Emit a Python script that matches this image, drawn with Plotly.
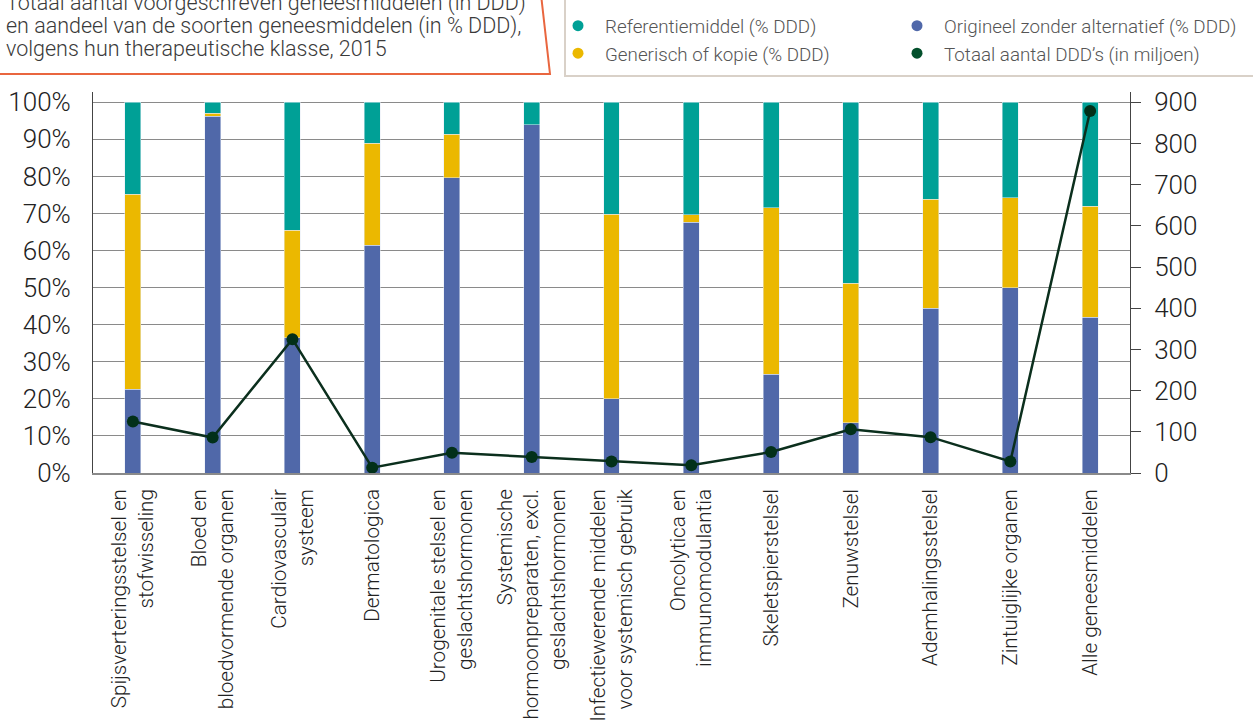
import plotly.graph_objects as go

categories = [
    "Spijsverteringsstelsel en<br>stofwisseling",
    "Bloed en<br>bloedvormende organen",
    "Cardiovasculair<br>systeem",
    "Dermatologica",
    "Urogenitale stelsel en<br>geslachtshormonen",
    "Systemische<br>hormoonpreparaten, excl.<br>geslachtshormonen",
    "Infectiewerende middelen<br>voor systemisch gebruik",
    "Oncolytica en<br>immunomodulantia",
    "Skeletspierstelsel",
    "Zenuwstelsel",
    "Ademhalingsstelsel",
    "Zintuiglijke organen",
    "Alle geneesmiddelen",
]
origineel = [22.6, 96.3, 36.5, 61.5, 79.6, 94.0, 20.0, 67.7, 26.6, 13.5, 44.5, 50.0, 42.0]
generisch = [52.6, 0.8, 29.0, 27.5, 11.8, 0.0, 49.8, 2.0, 44.9, 37.7, 29.4, 24.2, 30.0]
referentie = [24.8, 2.9, 34.5, 11.0, 8.6, 6.0, 30.2, 30.3, 28.5, 48.8, 26.1, 25.8, 28.0]
totaal_ddd = [125, 86, 325, 13, 49, 39, 28, 19, 51, 106, 87, 28, 879]
pct_ticks = [0, 10, 20, 30, 40, 50, 60, 70, 80, 90, 100]
pct_labels = [f"{v}%" for v in pct_ticks]
ddd_ticks = [0, 100, 200, 300, 400, 500, 600, 700, 800, 900]

C_TEAL = "#00A096"
C_YELLOW = "#EBB800"
C_BLUE = "#5068A9"
C_LINE = "#0B2F1D"
C_DOT = "#023019"
C_LEG_GREEN = "#03502C"

W, H = 1253, 728
L, R, T, B = 93, 1130, 92, 473
FONT = "Roboto"


def px(x):
    return (x - L) / (R - L)


def py(y):
    return (B - y) / (B - T)


fig = go.Figure()
x_idx = list(range(len(categories)))

fig.add_trace(go.Bar(x=x_idx, y=origineel, marker_color=C_BLUE, width=0.2,
                     name="Origineel zonder alternatief (% DDD)", showlegend=False))
fig.add_trace(go.Bar(x=x_idx, y=generisch, marker_color=C_YELLOW, width=0.2,
                     name="Generisch of kopie (% DDD)", showlegend=False))
fig.add_trace(go.Bar(x=x_idx, y=referentie, marker_color=C_TEAL, width=0.2,
                     name="Referentiemiddel (% DDD)", showlegend=False))
fig.add_trace(go.Scatter(x=x_idx, y=totaal_ddd, yaxis="y2", mode="lines+markers",
                         line=dict(color=C_LINE, width=2.5),
                         marker=dict(color=C_DOT, size=12),
                         name="Totaal aantal DDD's (in miljoen)", showlegend=False))

# legend entries (dots)
leg_items = [
    ("Referentiemiddel (% DDD)", C_TEAL, "legend"),
    ("Generisch of kopie (% DDD)", C_YELLOW, "legend"),
    ("Origineel zonder alternatief (% DDD)", C_BLUE, "legend2"),
    ("Totaal aantal DDD\u2019s (in miljoen)", C_LEG_GREEN, "legend2"),
]
for i, (nm, col, lg) in enumerate(leg_items):
    fig.add_trace(go.Scatter(x=[None], y=[None], mode="markers", name=nm,
                             marker=dict(color=col, size=11),
                             legend=lg, legendgroup=f"g{i}", showlegend=True))

leg_font = dict(family=FONT, size=18.8, color="#555555", weight=300)

fig.update_layout(
    width=W, height=H,
    margin=dict(l=L, r=W - R, t=T, b=H - B, pad=0, autoexpand=False),
    paper_bgcolor="white", plot_bgcolor="white",
    barmode="stack",
    font=dict(family=FONT, color="#333333"),
    xaxis=dict(
        range=[-0.5, len(categories) - 0.5],
        tickmode="array", tickvals=x_idx, ticktext=categories,
        tickangle=-90, tickfont=dict(family=FONT, size=20.7, color="#222222", weight=300),
        showgrid=False, showline=True, linecolor="#8a8a8a", linewidth=1.5,
        ticks="", ticklabelstandoff=6, zeroline=False, automargin=False,
    ),
    yaxis=dict(
        range=[0, 102.78], tickmode="array", tickvals=pct_ticks, ticktext=pct_labels,
        tickfont=dict(family=FONT, size=26, color="#222222", weight=300),
        showgrid=True, gridcolor="#8a8a8a", gridwidth=1.4,
        showline=True, linecolor="#444444", linewidth=1,
        zeroline=False, ticks="", ticklabelstandoff=16, automargin=False,
    ),
    yaxis2=dict(
        range=[0, 925], overlaying="y", side="right",
        tickmode="array", tickvals=ddd_ticks,
        tickfont=dict(family=FONT, size=26, color="#222222", weight=300),
        showgrid=False, showline=True, linecolor="#444444", linewidth=1,
        ticks="outside", ticklen=10, tickcolor="#444444", tickwidth=1,
        zeroline=False, ticklabelstandoff=8, automargin=False,
    ),
    legend=dict(
        x=px(551), y=py(7), xanchor="left", yanchor="top",
        xref="paper", yref="paper", orientation="v",
        font=leg_font, bgcolor="rgba(0,0,0,0)", borderwidth=0,
        tracegroupgap=14, traceorder="normal", itemwidth=44,
    ),
    legend2=dict(
        x=px(890), y=py(7), xanchor="left", yanchor="top",
        xref="paper", yref="paper", orientation="v",
        font=leg_font, bgcolor="rgba(0,0,0,0)", borderwidth=0,
        tracegroupgap=14, traceorder="normal", itemwidth=44,
    ),
)

# title box (orange border, partly off-canvas)
fig.add_shape(type="path", xref="paper", yref="paper",
              path=f"M {px(-10)} {py(74)} L {px(550)} {py(74)} L {px(540.5)} {py(-10)}",
              line=dict(color="#E9663F", width=2), layer="above")
# legend box
fig.add_shape(type="rect", xref="paper", yref="paper",
              x0=px(565), x1=px(1265), y0=py(76), y1=py(-10),
              line=dict(color="#D9D1C8", width=2), fillcolor="rgba(0,0,0,0)", layer="below")

title_lines = [
    ("Totaal aantal voorgeschreven geneesmiddelen (in DDD)", 3),
    ("en aandeel van de soorten geneesmiddelen (in % DDD),", 26),
    ("volgens hun therapeutische klasse, 2015", 49),
]
for txt, yc in title_lines:
    fig.add_annotation(text=txt, xref="paper", yref="paper", x=px(4), y=py(yc),
                       xanchor="left", yanchor="middle", showarrow=False,
                       font=dict(family=FONT, size=21.5, color="#3a3a3a", weight=300))

fig.write_html("out.html")
